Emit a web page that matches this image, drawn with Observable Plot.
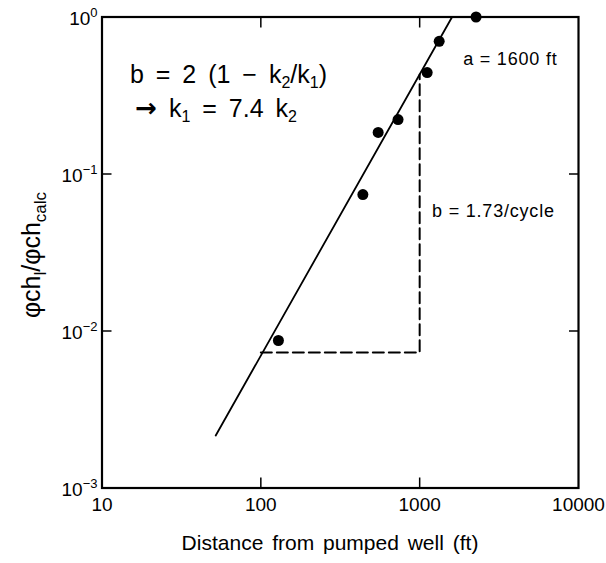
<!DOCTYPE html>
<html><head><meta charset="utf-8">
<script src="https://cdn.jsdelivr.net/npm/d3@7"></script>
<script src="https://cdn.jsdelivr.net/npm/@observablehq/plot@0.6"></script>
<style>
body{margin:0;background:#fff;}
svg{font-family:"Liberation Sans", Arial, sans-serif;}
</style></head><body><div id="chart"></div>
<script>
// Observed data points
const distance = [129, 439, 548, 731, 1115, 1327, 2265];
const ratio = [0.0087, 0.074, 0.184, 0.222, 0.443, 0.70, 1.0];
// Fitted straight line (log-log)
const fitDistance = [52, 1600];
const fitRatio = [0.00216, 1.0];
// Slope construction (dashed)
const slopeDistance = [100, 1000, 1000];
const slopeRatio = [0.0073, 0.0073, 0.43];
// Ticks
const xTickValues = [10, 100, 1000, 10000];
const xTickLabels = ["10", "100", "1000", "10000"];
const yTickValues = [1, 0.1, 0.01, 0.001];
const yTickExponents = ["0", "−1", "−2", "−3"];
const innerXTicks = [100, 1000];
const innerYTicks = [0.1, 0.01];

const points = distance.map((d, i) => ({d, r: ratio[i]}));
const fit = fitDistance.map((d, i) => ({d, r: fitRatio[i]}));
const slope = slopeDistance.map((d, i) => ({d, r: slopeRatio[i]}));

const plot = Plot.plot({
  width: 606, height: 563,
  marginLeft: 101.5, marginRight: 28, marginTop: 16.5, marginBottom: 75.5,
  style: {background: "white", color: "black", fontFamily: "Liberation Sans, Arial, sans-serif"},
  x: {type: "log", domain: [10, 10000]},
  y: {type: "log", domain: [0.001, 1]},
  marks: [
    Plot.axisX(innerXTicks, {anchor: "bottom", tickSize: 10, dy: -10, fill: "none", label: null, strokeWidth: 1.5}),
    Plot.axisX(innerXTicks, {anchor: "top", tickSize: 10, dy: 10, fill: "none", label: null, strokeWidth: 1.5}),
    Plot.axisY(innerYTicks, {anchor: "left", tickSize: 10, dx: 10, fill: "none", label: null, strokeWidth: 1.5}),
    Plot.axisY(innerYTicks, {anchor: "right", tickSize: 10, dx: -10, fill: "none", label: null, strokeWidth: 1.5}),
    Plot.axisX(xTickValues, {anchor: "bottom", tickSize: 0, tickPadding: 9, fontSize: 19, label: null,
      tickFormat: d => xTickLabels[xTickValues.indexOf(d)]}),
    Plot.frame({strokeWidth: 2.2}),
    Plot.line(fit, {x: "d", y: "r", strokeWidth: 1.8}),
    Plot.line(slope, {x: "d", y: "r", strokeWidth: 2, strokeDasharray: "11,5"}),
    Plot.dot(points, {x: "d", y: "r", r: 5.5, fill: "black", stroke: "none"})
  ]
});
document.getElementById("chart").appendChild(plot);

const svg = d3.select(plot);
const sx = plot.scale("x"), sy = plot.scale("y");

// y tick labels with superscripts
yTickValues.forEach((v, i) => {
  const t = svg.append("text")
    .attr("x", sx.apply(10) - 4).attr("y", sy.apply(v) + 8.5)
    .attr("text-anchor", "end").attr("font-size", 19).attr("fill", "black");
  t.append("tspan").text("10");
  t.append("tspan").attr("dy", -8).attr("font-size", 13).text(yTickExponents[i]);
});

// Equation lines
const eq1 = svg.append("text").attr("x", sx.apply(15.1)).attr("y", sy.apply(0.377))
  .attr("text-anchor", "start").attr("font-size", 25).attr("word-spacing", 5).attr("fill", "black");
eq1.append("tspan").text("b = 2 (1 − k");
eq1.append("tspan").attr("dy", 5).attr("font-size", 16).text("2");
eq1.append("tspan").attr("dy", -5).text("/k");
eq1.append("tspan").attr("dy", 5).attr("font-size", 16).text("1");
eq1.append("tspan").attr("dy", -5).text(")");

const eq2 = svg.append("text").attr("x", sx.apply(16.3)).attr("y", sy.apply(0.23))
  .attr("text-anchor", "start").attr("font-size", 25).attr("word-spacing", 5).attr("fill", "black");
eq2.append("tspan").attr("font-family", "DejaVu Sans").attr("font-weight", "bold").attr("font-size", 26).text("→");
eq2.append("tspan").text(" k");
eq2.append("tspan").attr("dy", 5).attr("font-size", 16).text("1");
eq2.append("tspan").attr("dy", -5).text(" = 7.4 k");
eq2.append("tspan").attr("dy", 5).attr("font-size", 16).text("2");

svg.append("text").attr("x", sx.apply(1892)).attr("y", sy.apply(0.491))
  .attr("text-anchor", "start").attr("font-size", 18).attr("letter-spacing", 0.8).attr("fill", "black").text("a = 1600 ft");
svg.append("text").attr("x", sx.apply(1205)).attr("y", sy.apply(0.0528))
  .attr("text-anchor", "start").attr("font-size", 18).attr("letter-spacing", 0.8).attr("fill", "black").text("b = 1.73/cycle");

// Axis titles
svg.append("text").attr("x", 330).attr("y", 550).attr("text-anchor", "middle")
  .attr("font-size", 21).attr("word-spacing", 3).attr("fill", "black").text("Distance from pumped well (ft)");

const yl = svg.append("text").attr("transform", "translate(40,255) rotate(-90)")
  .attr("text-anchor", "middle").attr("font-size", 25).attr("fill", "black");
yl.append("tspan").text("φch");
yl.append("tspan").attr("dy", 6).attr("font-size", 17).text("l");
yl.append("tspan").attr("dy", -6).text("/φch");
yl.append("tspan").attr("dy", 6).attr("font-size", 17).text("calc");
</script></body></html>
